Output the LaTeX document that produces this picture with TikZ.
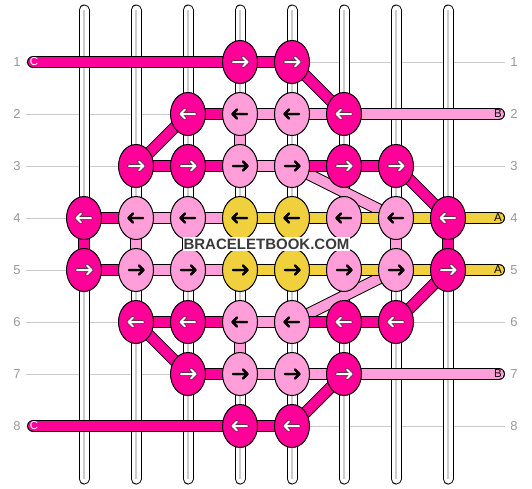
\documentclass[tikz,border=0pt]{standalone}
\usepackage{fontspec}
\setmainfont{Liberation Sans}
\usetikzlibrary{shapes.geometric}
\definecolor{dk}{HTML}{FF0099}
\definecolor{lt}{HTML}{FF9ED8}
\definecolor{yl}{HTML}{F0D03C}
\definecolor{gl}{HTML}{CCCCCC}
\definecolor{lbl}{HTML}{999999}
\definecolor{wmk}{HTML}{3A3A3A}
\definecolor{wol}{HTML}{6A2A50}
\begin{document}
\begin{tikzpicture}[x=1pt,y=-1pt,
  guide/.style={draw=gl, line width=1pt},
  stringtube/.style={draw=black, double=white, double distance=9pt, line width=1pt, line cap=round},
  strcore/.style={draw=gl, line width=1.2pt},
  thr/.style={draw=black, double=#1, double distance=10pt, line width=1pt},
  thrend/.style={draw=black, double=#1, double distance=10pt, line width=1pt, line cap=round},
  knot/.style={ellipse, draw=black, line width=1pt, fill=#1, minimum width=35pt, minimum height=43pt, inner sep=0pt},
  rowlbl/.style={text=lbl, font=\fontsize{13}{14}\selectfont, inner sep=0pt},
  endlbl/.style={font=\fontsize{11.5}{12}\selectfont, inner sep=0pt},
  ]
\useasboundingbox (0,0) rectangle (532,488);
\fill[white] (0,0) rectangle (532,488);
% grid coordinates
\foreach \r in {1,...,8}{
  \foreach \c in {1,...,8}{
    \coordinate (p\r-\c) at ({84+52*(\c-1)},{62+52*(\r-1)});
  }
  \coordinate (gl\r) at (26,{62+52*(\r-1)});
  \coordinate (gr\r) at (505,{62+52*(\r-1)});
  \node[rowlbl] (L\r) at (17,{62+52*(\r-1)}) {\r};
  \node[rowlbl] (R\r) at (514,{62+52*(\r-1)}) {\r};
  \draw[guide] (gl\r) -- (gr\r);
}
% vertical strings
\foreach \c in {1,...,8}{
  \coordinate (st\c) at ({84+52*(\c-1)},10);
  \coordinate (sb\c) at ({84+52*(\c-1)},479);
  \draw[stringtube] (st\c) -- (sb\c);
  \draw[strcore] (st\c) -- (sb\c);
}
% free ends of threads
\coordinate (c1L) at (33,62);
\coordinate (c8L) at (33,426);
\coordinate (b2R) at (499,114);
\coordinate (b7R) at (499,374);
\coordinate (a4R) at (499,218);
\coordinate (a5R) at (499,270);
% end threads
\draw[thrend=dk] (c1L) -- (p1-4);
\draw[thrend=dk] (c8L) -- (p8-4);
\draw[thrend=lt] (b2R) -- (p2-6);
\draw[thrend=lt] (b7R) -- (p7-6);
\draw[thrend=yl] (a4R) -- (p4-8);
\draw[thrend=yl] (a5R) -- (p5-8);
% diagonals
\draw[thr=dk] (p1-5) -- (p2-6);
\draw[thr=dk] (p2-3) -- (p3-2);
\draw[thr=dk] (p3-7) -- (p4-8);
\draw[thr=lt] (p3-5) -- (p4-7);
\draw[thr=lt] (p5-7) -- (p6-5);
\draw[thr=dk] (p5-8) -- (p6-7);
\draw[thr=dk] (p6-2) -- (p7-3);
\draw[thr=dk] (p7-6) -- (p8-5);
% verticals
\draw[thr=lt] (p2-4) -- (p3-4);
\draw[thr=lt] (p6-4) -- (p7-4);
\foreach \c/\k in {1/dk,2/lt,3/lt,4/yl,5/yl,6/lt,7/lt,8/dk}{
  \draw[thr=\k] (p4-\c) -- (p5-\c);
}
% horizontals
\foreach \r/\a/\b/\k in {1/4/5/dk, 8/4/5/dk,
  2/3/4/dk, 2/4/5/lt, 2/5/6/lt,
  3/2/3/dk, 3/3/4/dk, 3/4/5/lt, 3/5/6/dk, 3/6/7/dk,
  4/1/2/dk, 4/2/3/lt, 4/3/4/lt, 4/4/5/yl, 4/5/6/yl, 4/6/7/yl, 4/7/8/yl,
  5/1/2/dk, 5/2/3/lt, 5/3/4/lt, 5/4/5/yl, 5/5/6/yl, 5/6/7/yl, 5/7/8/yl,
  6/2/3/dk, 6/3/4/dk, 6/4/5/lt, 6/5/6/dk, 6/6/7/dk,
  7/3/4/dk, 7/4/5/lt, 7/5/6/lt}{
  \draw[thr=\k] (p\r-\a) -- (p\r-\b);
}
% end labels
\node[endlbl, text=white] (lc1) at (34,62) {C};
\node[endlbl, text=white] (lc8) at (34,426) {C};
\node[endlbl, text=black] (lb2) at (498,114) {B};
\node[endlbl, text=black] (lb7) at (498,374) {B};
\node[endlbl, text=black] (la4) at (498,218) {A};
\node[endlbl, text=black] (la5) at (498,270) {A};
% knots with arrows
\foreach \r/\c/\k/\d/\ac/\oc/\ow in {
  1/4/dk/1/white/wol/3.6, 1/5/dk/1/white/wol/3.6,
  2/3/dk/-1/white/wol/3.6, 2/4/lt/-1/black/black/2.3, 2/5/lt/-1/black/black/2.3, 2/6/dk/-1/white/wol/3.6,
  3/2/dk/1/white/wol/3.6, 3/3/dk/1/white/wol/3.6, 3/4/lt/1/black/black/2.3, 3/5/lt/1/black/black/2.3, 3/6/dk/1/white/wol/3.6, 3/7/dk/1/white/wol/3.6,
  4/1/dk/-1/white/wol/3.6, 4/2/lt/-1/black/black/2.3, 4/3/lt/-1/black/black/2.3, 4/4/yl/-1/black/black/2.3, 4/5/yl/-1/black/black/2.3, 4/6/lt/-1/black/black/2.3, 4/7/lt/-1/black/black/2.3, 4/8/dk/-1/white/wol/3.6,
  5/1/dk/1/white/wol/3.6, 5/2/lt/1/black/black/2.3, 5/3/lt/1/black/black/2.3, 5/4/yl/1/black/black/2.3, 5/5/yl/1/black/black/2.3, 5/6/lt/1/black/black/2.3, 5/7/lt/1/black/black/2.3, 5/8/dk/1/white/wol/3.6,
  6/2/dk/-1/white/wol/3.6, 6/3/dk/-1/white/wol/3.6, 6/4/lt/-1/black/black/2.3, 6/5/lt/-1/black/black/2.3, 6/6/dk/-1/white/wol/3.6, 6/7/dk/-1/white/wol/3.6,
  7/3/dk/1/white/wol/3.6, 7/4/lt/1/black/black/2.3, 7/5/lt/1/black/black/2.3, 7/6/dk/1/white/wol/3.6,
  8/4/dk/-1/white/wol/3.6, 8/5/dk/-1/white/wol/3.6}{
  \node[knot=\k] (k\r-\c) at (p\r-\c) {};
  \draw[shift={(k\r-\c.center)}, xscale=\d, draw=\oc, line width=\ow pt, line cap=round, line join=round]
    (-7,0) -- (7.5,0) (3,-4.5) -- (7.5,0) -- (3,4.5);
  \draw[shift={(k\r-\c.center)}, xscale=\d, draw=\ac, line width=2pt, line cap=round, line join=round]
    (-7,0) -- (7.5,0) (3,-4.5) -- (7.5,0) -- (3,4.5);
}
% watermark
\node[fill=white, text=wmk, inner xsep=1pt, inner ysep=0pt, minimum height=14pt,
  font=\bfseries\fontsize{15}{15}\selectfont] (wm) at (266.5,244) {BRACELETBOOK.COM};
\end{tikzpicture}
\end{document}
